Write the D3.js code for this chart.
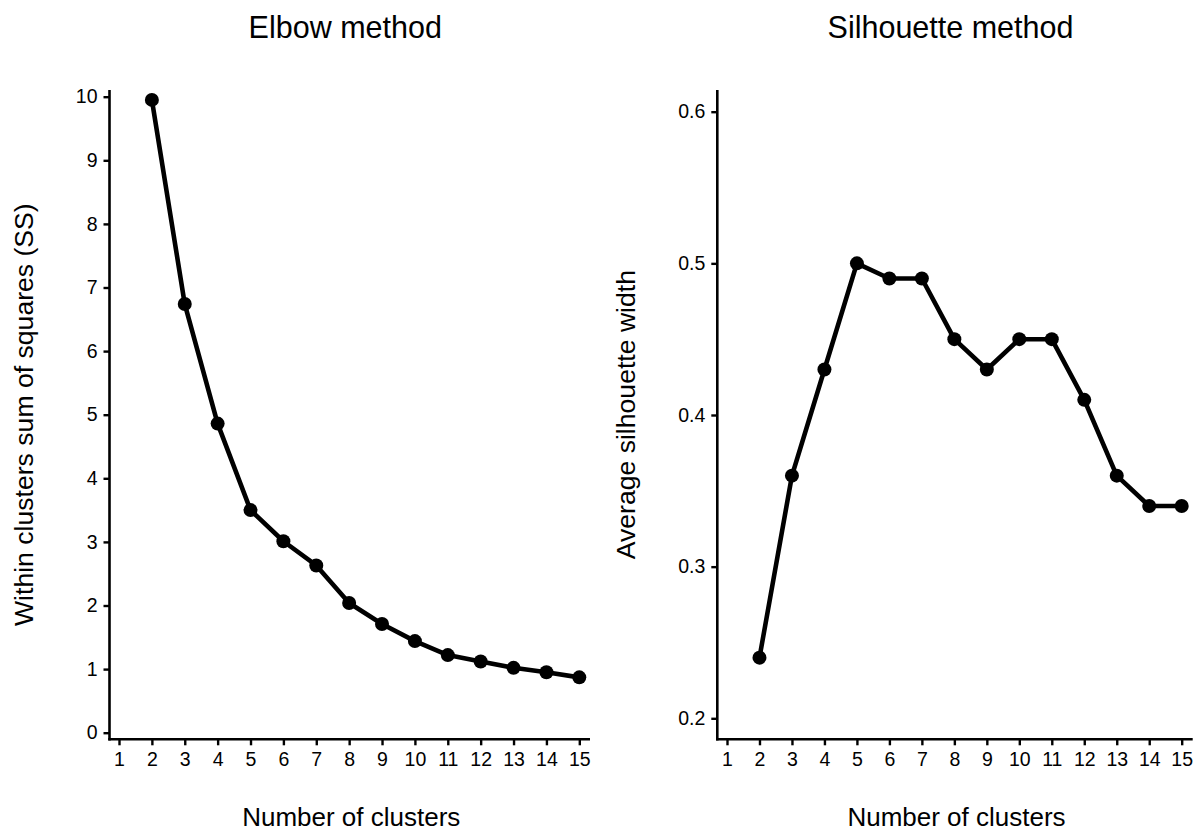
<!DOCTYPE html>
<html>
<head>
<meta charset="utf-8">
<script src="https://cdn.jsdelivr.net/npm/d3@7"></script>
<style>
  html, body { margin: 0; padding: 0; background: #fff; }
  svg { display: block; }
  text { font-family: "Liberation Sans", Arial, Helvetica, sans-serif; fill: #000; }
</style>
</head>
<body>
<svg id="chart" width="1201" height="830"></svg>
<script>
// ---- data ----
const clusters = [1,2,3,4,5,6,7,8,9,10,11,12,13,14,15];
const elbowK = [2,3,4,5,6,7,8,9,10,11,12,13,14,15];
const elbowSS = [9.95,6.74,4.86,3.50,3.01,2.63,2.04,1.71,1.44,1.22,1.12,1.02,0.95,0.87];
const silK = [2,3,4,5,6,7,8,9,10,11,12,13,14,15];
const silWidth = [0.24,0.36,0.43,0.50,0.49,0.49,0.45,0.43,0.45,0.45,0.41,0.36,0.34,0.34];
const elbowYTicks = [0,1,2,3,4,5,6,7,8,9,10];
const silYTicks = [0.2,0.3,0.4,0.5,0.6];

const svg = d3.select("#chart");

function panel(cfg) {
  const g = svg.append("g");
  const x = d3.scaleLinear().domain([1,15]).range(cfg.xr);
  const y = d3.scaleLinear().domain(cfg.yd).range(cfg.yr);

  const xAxis = d3.axisBottom(x).tickValues(clusters).tickFormat(d3.format("d"))
    .tickSize(6).tickPadding(7).tickSizeOuter(0);
  const yAxis = d3.axisLeft(y).tickValues(cfg.yTicks).tickFormat(cfg.fmt)
    .tickSize(6).tickPadding(6).tickSizeOuter(0);

  const gx = g.append("g").attr("transform", `translate(0,${cfg.bottom})`).call(xAxis);
  const gy = g.append("g").attr("transform", `translate(${cfg.left},0)`).call(yAxis);
  [gx, gy].forEach(a => {
    a.select(".domain").remove();
    a.selectAll(".tick line").attr("stroke", "#000").attr("stroke-width", 2.4);
    a.selectAll(".tick text").style("font-size", "19.5px").attr("fill", "#000");
  });
  g.append("line").attr("x1", cfg.left).attr("x2", cfg.left)
    .attr("y1", cfg.top).attr("y2", cfg.bottom + 1.2)
    .attr("stroke", "#000").attr("stroke-width", 2.6);
  g.append("line").attr("x1", cfg.left - 1.2).attr("x2", cfg.right)
    .attr("y1", cfg.bottom).attr("y2", cfg.bottom)
    .attr("stroke", "#000").attr("stroke-width", 2.6);

  const pts = cfg.k.map((k, i) => [k, cfg.v[i]]);
  g.append("path").datum(pts)
    .attr("fill", "none").attr("stroke", "#000").attr("stroke-width", 4.6)
    .attr("stroke-linejoin", "round")
    .attr("d", d3.line().x(d => x(d[0])).y(d => y(d[1])));
  g.selectAll("circle.pt").data(pts).enter().append("circle")
    .attr("class", "pt")
    .attr("cx", d => x(d[0])).attr("cy", d => y(d[1])).attr("r", 7)
    .attr("fill", "#000");

  const cx = (cfg.left + cfg.right) / 2;
  g.append("text").attr("x", cx - 4.5).attr("y", 37.5).attr("text-anchor", "middle")
    .style("font-size", "30.5px").text(cfg.title);
  g.append("text").attr("x", cx + 1.5).attr("y", 825.5).attr("text-anchor", "middle")
    .style("font-size", "26px").text("Number of clusters");
  const cy = (cfg.top + cfg.bottom) / 2;
  g.append("text").attr("transform", `translate(${cfg.ytx},${cy}) rotate(-90)`)
    .attr("text-anchor", "middle").style("font-size", "26.6px").text(cfg.ytitle);
}

panel({
  k: elbowK, v: elbowSS, yTicks: elbowYTicks, fmt: d3.format("d"),
  xr: [119, 579.3], yd: [0, 10], yr: [732.7, 96.7],
  left: 109.5, right: 590, top: 90, bottom: 739.3,
  title: "Elbow method", ytitle: "Within clusters sum of squares (SS)", ytx: 33
});
panel({
  k: silK, v: silWidth, yTicks: silYTicks, fmt: d3.format(".1f"),
  xr: [727, 1181.7], yd: [0.2, 0.6], yr: [718.3, 111.7],
  left: 717.3, right: 1192.7, top: 90, bottom: 739.3,
  title: "Silhouette method", ytitle: "Average silhouette width", ytx: 635
});
</script>
</body>
</html>
